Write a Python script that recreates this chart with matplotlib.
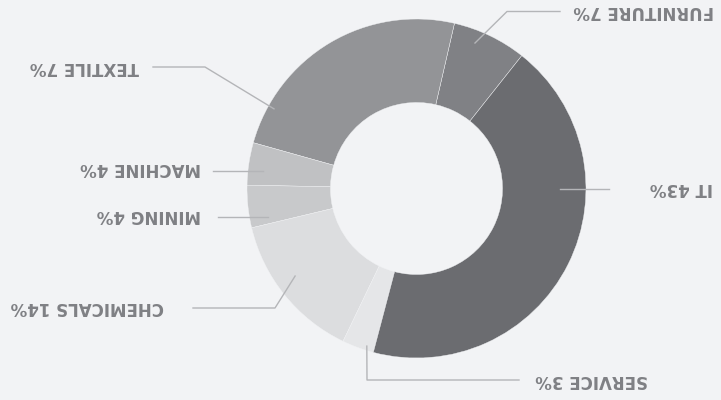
import numpy as np
import matplotlib
matplotlib.use("Agg")
import matplotlib.pyplot as plt

# data (chart is drawn upside down, like the reference)
sectors = ["FURNITURE", "TEXTILE", "MACHINE", "MINING", "CHEMICALS", "SERVICE", "IT"]
values = [7, 24, 4, 4, 14, 3, 43]
labels = ["FURNITURE 7%", "TEXTILE 7%", "MACHINE 4%", "MINING 4%",
          "CHEMICALS 14%", "SERVICE 3%", "IT 43%"]
colors = ["#808185", "#939497", "#c0c1c3", "#c8c9cb", "#dcdddf", "#e5e6e8", "#6b6c70"]

bg = "#f2f3f5"
txt_col = "#7f8084"
line_col = "#b4b5b8"

fig = plt.figure(figsize=(7.21, 4.0), dpi=100, facecolor=bg)
ax = fig.add_axes([0, 0, 1, 1])
ax.set_facecolor(bg)

cx, cy, R = 416.5, 211.5, 169.5
ax.pie(values, colors=colors, radius=R, center=(cx, cy), startangle=51.6,
       counterclock=True, frame=True,
       wedgeprops=dict(width=R - 86, edgecolor=bg, linewidth=0.3))

# leader lines: angle of start point, radius fraction, elbow, end, text position
lead = {
    "FURNITURE": (68.1, 0.925, (507, 388.5), 560, (573, 389), "left"),
    "TEXTILE": (150.8, 0.963, (205, 333), 153, (139, 333), "right"),
    "MACHINE": (173.5, 0.91, None, 213, (201, 232), "right"),
    "MINING": (190.9, 0.89, None, 218, (201, 185), "right"),
    "CHEMICALS": (215.8, 0.883, (275, 92), 193, (164, 93), "right"),
    "SERVICE": (252.5, 0.975, (367, 20), 519, (535, 20), "left"),
    "IT": (0.0, 0.847, None, 609, (650, 212), "left"),
}

for name, lab in zip(sectors, labels):
    a, f, elbow, xend, tpos, ha = lead[name]
    x0 = cx + f * R * np.cos(np.radians(a))
    y0 = cy + f * R * np.sin(np.radians(a))
    if elbow is None:
        xs, ys = [x0, xend], [y0, y0]
    else:
        xs, ys = [x0, elbow[0], xend], [y0, elbow[1], elbow[1]]
    ax.plot(xs, ys, color=line_col, lw=1.0)
    ax.text(tpos[0], tpos[1], lab, rotation=180, ha=ha, va="center",
            fontsize=12, fontweight="heavy", color=txt_col, family="DejaVu Sans")

ax.set_xlim(0, 721)
ax.set_ylim(0, 400)
ax.set_aspect("equal")
ax.axis("off")

plt.savefig("out.png", dpi=100, facecolor=bg)
